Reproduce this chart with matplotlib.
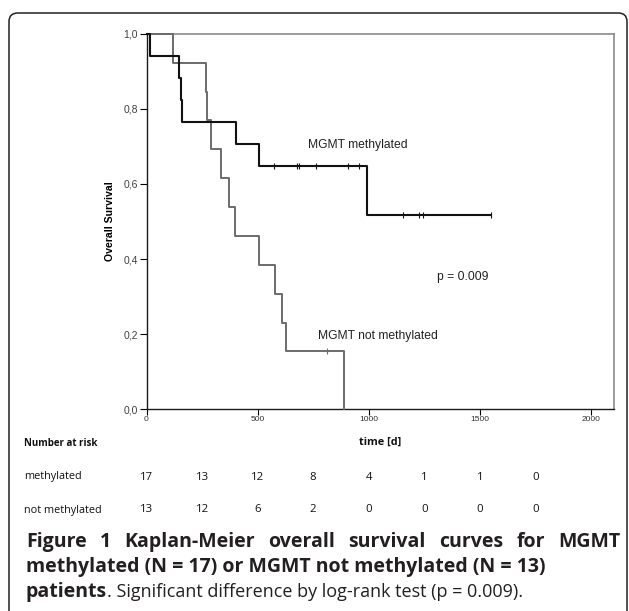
import matplotlib
matplotlib.use('Agg')
import matplotlib.pyplot as plt
from matplotlib.patches import FancyBboxPatch
from matplotlib.ticker import FuncFormatter
from matplotlib.transforms import blended_transform_factory

W, H = 629, 611

# Kaplan-Meier steps
meth_t = [0, 14, 148, 155, 160, 402, 507, 991, 1549]
meth_s = [1.0, 0.941, 0.882, 0.824, 0.765, 0.706, 0.647, 0.518, 0.518]
meth_cens_t = [575, 676, 688, 762, 906, 954, 1153, 1228, 1243, 1549]
meth_cens_s = [0.647, 0.647, 0.647, 0.647, 0.647, 0.647, 0.518, 0.518, 0.518, 0.518]

unm_t = [0, 121, 268, 272, 289, 334, 373, 396, 507, 576, 610, 628, 888]
unm_s = [1.0, 0.923, 0.846, 0.769, 0.692, 0.615, 0.538, 0.462, 0.385, 0.308, 0.231, 0.154, 0.0]
unm_cens_t = [811]
unm_cens_s = [0.154]

# number at risk table
risk_times = [0, 250, 500, 750, 1000, 1250, 1500, 1750]
risk_meth = [17, 13, 12, 8, 4, 1, 1, 0]
risk_unm = [13, 12, 6, 2, 0, 0, 0, 0]

xticks = [0, 500, 1000, 1500, 2000]
yticks = [0.0, 0.2, 0.4, 0.6, 0.8, 1.0]

fig = plt.figure(figsize=(W / 100, H / 100), dpi=100)
fig.patch.set_facecolor('white')

# rounded frame around the figure panel (open at the bottom)
frame = FancyBboxPatch((9 / W, -0.05), (627 - 9) / W, 1.05 - 13 / H,
                       boxstyle="round,pad=0,rounding_size=0.014",
                       transform=fig.transFigure, fill=False,
                       edgecolor='#222222', linewidth=1.1, clip_on=False)
fig.patches.append(frame)

ax = fig.add_axes([146.5 / W, 1 - 409.3 / H, (614.3 - 146.5) / W, (409.3 - 33.7) / H])
ax.set_xlim(0, 2105)
ax.set_ylim(0, 1)

for side in ['left', 'bottom']:
    ax.spines[side].set_color('#1a1a1a')
    ax.spines[side].set_linewidth(1.0)
for side in ['top', 'right']:
    ax.spines[side].set_color('#8a8a8a')
    ax.spines[side].set_linewidth(1.2)

ax.set_xticks(xticks)
ax.set_yticks(yticks)
ax.yaxis.set_major_formatter(FuncFormatter(lambda v, p: f"{v:.1f}".replace('.', ',')))
ax.tick_params(axis='y', direction='out', length=5, width=0.8, pad=1,
               labelsize=7.5, labelcolor='#404040')
ax.tick_params(axis='x', direction='out', length=4, width=0.8, pad=1,
               labelsize=6, labelcolor='#303030')
for lab in ax.get_xticklabels():
    lab.set_family(['Liberation Sans Narrow', 'Liberation Sans'])
for lab in ax.get_yticklabels():
    lab.set_family('Liberation Sans')

ax.step(unm_t, unm_s, where='post', color='#6b6b6b', linewidth=1.4, zorder=3, clip_on=False)
ax.step(meth_t, meth_s, where='post', color='#111111', linewidth=1.5, zorder=4, clip_on=False)
ax.plot(meth_cens_t, meth_cens_s, linestyle='none', marker='|', markersize=5,
        markeredgewidth=0.8, color='#111111', zorder=5)
ax.plot(unm_cens_t, unm_cens_s, linestyle='none', marker='+', markersize=5,
        markeredgewidth=0.8, color='#4a6fd0', zorder=5)

ax.set_ylabel('Overall Survival', fontsize=7.6, fontweight='bold',
              family='Liberation Sans')
ax.yaxis.set_label_coords((115 - 146.5) / (614.3 - 146.5), 0.5)

ax.text(727, 0.704, 'MGMT methylated', fontsize=8.7, family='Liberation Sans',
        color='#222222', va='center', ha='left')
ax.text(1307, 0.352, 'p = 0.009', fontsize=8.7, family='Liberation Sans',
        color='#222222', va='center', ha='left')
ax.text(772, 0.195, 'MGMT not methylated', fontsize=8.7, family='Liberation Sans',
        color='#222222', va='center', ha='left')

# x label and risk table
fig.text(380 / W, 1 - 442 / H, 'time [d]', fontsize=7.8, fontweight='bold',
         family='Open Sans', ha='center', va='center', color='#111111')
fig.text(24 / W, 1 - 444 / H, 'Number at risk', fontsize=7.0, fontweight='bold',
         family='Open Sans', ha='left', va='center', color='#111111')
fig.text(24 / W, 1 - 477 / H, 'methylated', fontsize=7.8,
         family='Open Sans', ha='left', va='center', color='#111111')
fig.text(24 / W, 1 - 510 / H, 'not methylated', fontsize=7.8,
         family='Open Sans', ha='left', va='center', color='#111111')

tr = blended_transform_factory(ax.transData, fig.transFigure)
for t, a, b in zip(risk_times, risk_meth, risk_unm):
    fig.text(t, 1 - 477 / H, str(a), transform=tr, fontsize=8.2, family='Open Sans',
             ha='center', va='center', color='#111111')
    fig.text(t, 1 - 510 / H, str(b), transform=tr, fontsize=8.2, family='Open Sans',
             ha='center', va='center', color='#111111')

# caption
cap_kw = dict(family='Open Sans', color='#231f20', va='center', ha='left')
renderer = fig.canvas.get_renderer()
x0, x1 = 26, 620

line1 = 'Figure 1 Kaplan-Meier overall survival curves for MGMT'.split(' ')
texts = [fig.text(0, 1 - 542 / H, w, fontsize=14, fontweight='bold', **cap_kw) for w in line1]
widths = [t.get_window_extent(renderer).width for t in texts]
gap = max((x1 - x0 - sum(widths)) / (len(texts) - 1), 4)
x = x0
for t, w in zip(texts, widths):
    t.set_x(x / W)
    x += w + gap

fig.text(x0 / W, 1 - 567 / H, 'methylated (N = 17) or MGMT not methylated (N = 13)',
         fontsize=14, fontweight='bold', **cap_kw)

bold = fig.text(x0 / W, 1 - 592 / H, 'patients', fontsize=14, fontweight='bold', **cap_kw)
bw = bold.get_window_extent(renderer).width
fig.text((x0 + bw) / W, 1 - 592 / H,
         '. Significant difference by log-rank test (p = 0.009).', fontsize=13, **cap_kw)

fig.savefig('out.png', dpi=100)
